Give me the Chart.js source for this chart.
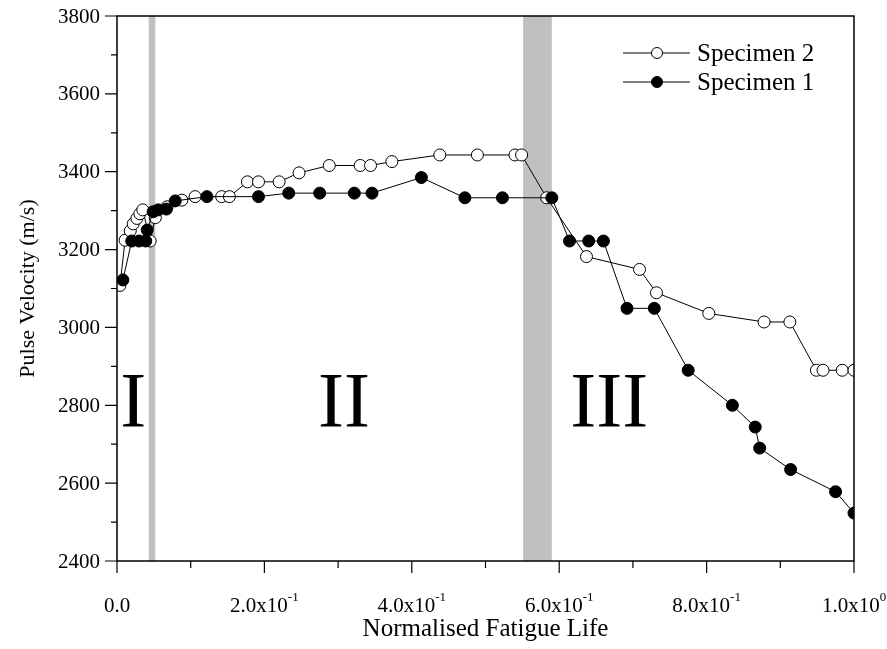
<!DOCTYPE html>
<html>
<head>
<meta charset="utf-8">
<title>Pulse velocity vs normalised fatigue life</title>
<script src="https://cdn.jsdelivr.net/npm/chart.js@4/dist/chart.umd.min.js"></script>
<style>
  html, body { margin: 0; padding: 0; background: #fff; }
  canvas { display: block; }
</style>
</head>
<body>
<canvas id="pulseChart" width="887" height="649"></canvas>
<script>
// Values (normalised life vs pulse velocity, m/s).
const spec2Life = [0.004, 0.011, 0.018, 0.022, 0.027, 0.031, 0.035, 0.045, 0.052, 0.068, 0.088, 0.106, 0.142, 0.1525,
  0.177, 0.192, 0.220, 0.247, 0.288, 0.330, 0.344, 0.373, 0.438, 0.489, 0.540, 0.549, 0.583, 0.637, 0.709, 0.732,
  0.803, 0.878, 0.913, 0.949, 0.958, 0.984, 1.0];
const spec2Velocity = [3108, 3224, 3248, 3266, 3280, 3292, 3302, 3222, 3282, 3310, 3327, 3336, 3336, 3336,
  3374, 3374, 3374, 3397, 3416, 3416, 3416, 3426, 3443, 3443, 3443, 3443, 3333, 3182, 3149, 3089,
  3036, 3014, 3014, 2890, 2890, 2890, 2890];

const spec1Life = [0.008, 0.020, 0.030, 0.039, 0.041, 0.049, 0.056, 0.067, 0.079, 0.122, 0.192, 0.233, 0.275, 0.322,
  0.346, 0.413, 0.472, 0.523, 0.590, 0.614, 0.640, 0.660, 0.692, 0.729, 0.775, 0.835, 0.866, 0.872, 0.914, 0.975, 1.0];
const spec1Velocity = [3122, 3222, 3222, 3222, 3250, 3297, 3302, 3304, 3325, 3336, 3336, 3345, 3345, 3345,
  3345, 3385, 3333, 3333, 3333, 3222, 3222, 3222, 3049, 3049, 2890, 2800, 2744, 2690, 2635, 2578, 2523];

const yMajorTicks = [2400, 2600, 2800, 3000, 3200, 3400, 3600, 3800];
const yMinorTicks = [2500, 2700, 2900, 3100, 3300, 3500, 3700];
const xMajorTicks = [0, 0.2, 0.4, 0.6, 0.8, 1.0];
const xMinorTicks = [0.1, 0.3, 0.5, 0.7, 0.9];
const xTickBase = ["0.0", "2.0x10", "4.0x10", "6.0x10", "8.0x10", "1.0x10"];
const xTickExp = ["", "-1", "-1", "-1", "-1", "0"];

// transition zones between the three fatigue stages
const stageBands = [[0.043, 0.052], [0.551, 0.590]];
const stageNames = ["I", "II", "III"];
const stageLife = [0.022, 0.308, 0.668];
const stageVelocity = 2748;

const FONT = '"Liberation Serif", "Times New Roman", serif';

function text(ctx, str, x, y, size, align) {
  ctx.font = size + "px " + FONT;
  ctx.textAlign = align || "left";
  ctx.fillText(str, x, y);
}

const framePlugin = {
  id: "originFrame",
  beforeDatasetsDraw(chart) {
    const { ctx, chartArea: a, scales: { x } } = chart;
    ctx.save();
    ctx.fillStyle = "#c0c0c0";
    stageBands.forEach(([from, to]) => {
      const x0 = x.getPixelForValue(from);
      const x1 = x.getPixelForValue(to);
      ctx.fillRect(x0, a.top, x1 - x0, a.bottom - a.top);
    });
    ctx.restore();
  },
  afterDatasetsDraw(chart) {
    const { ctx, chartArea: a, scales: { x, y } } = chart;
    ctx.save();
    ctx.strokeStyle = "#000";
    ctx.fillStyle = "#000";

    // stage labels
    ctx.textBaseline = "alphabetic";
    stageNames.forEach((s, i) => {
      text(ctx, s, x.getPixelForValue(stageLife[i]), y.getPixelForValue(stageVelocity), 78, "center");
    });

    // box
    ctx.lineWidth = 1.5;
    ctx.strokeRect(a.left, a.top, a.right - a.left, a.bottom - a.top);

    // ticks, outward on left and bottom
    ctx.lineWidth = 1.2;
    ctx.beginPath();
    yMajorTicks.forEach((v) => { const p = y.getPixelForValue(v); ctx.moveTo(a.left - 12, p); ctx.lineTo(a.left, p); });
    yMinorTicks.forEach((v) => { const p = y.getPixelForValue(v); ctx.moveTo(a.left - 6, p); ctx.lineTo(a.left, p); });
    xMajorTicks.forEach((v) => { const p = x.getPixelForValue(v); ctx.moveTo(p, a.bottom); ctx.lineTo(p, a.bottom + 12); });
    xMinorTicks.forEach((v) => { const p = x.getPixelForValue(v); ctx.moveTo(p, a.bottom); ctx.lineTo(p, a.bottom + 7); });
    ctx.stroke();

    // y tick labels
    ctx.textBaseline = "middle";
    yMajorTicks.forEach((v) => text(ctx, String(v), a.left - 17, y.getPixelForValue(v) + 1, 21, "right"));

    // x tick labels with superscript exponents
    ctx.textBaseline = "alphabetic";
    xMajorTicks.forEach((v, i) => {
      ctx.font = "21px " + FONT;
      const wb = ctx.measureText(xTickBase[i]).width;
      ctx.font = "13px " + FONT;
      const we = xTickExp[i] ? ctx.measureText(xTickExp[i]).width : 0;
      const start = x.getPixelForValue(v) - (wb + we) / 2;
      text(ctx, xTickBase[i], start, 612, 21, "left");
      if (xTickExp[i]) text(ctx, xTickExp[i], start + wb, 601, 13, "left");
    });

    // axis titles
    text(ctx, "Normalised Fatigue Life", (a.left + a.right) / 2, 636, 25, "center");
    ctx.save();
    ctx.translate(28, (a.top + a.bottom) / 2);
    ctx.rotate(-Math.PI / 2);
    ctx.textBaseline = "middle";
    text(ctx, "Pulse Velocity (m/s)", 0, 0, 22, "center");
    ctx.restore();

    // legend (Specimen 2 above Specimen 1)
    const entries = [chart.data.datasets[1], chart.data.datasets[0]];
    entries.forEach((ds, i) => {
      const ly = 53 + i * 29;
      ctx.lineWidth = 1;
      ctx.beginPath();
      ctx.moveTo(623, ly);
      ctx.lineTo(690, ly);
      ctx.stroke();
      ctx.beginPath();
      ctx.arc(657, ly, 5.5, 0, Math.PI * 2);
      ctx.fillStyle = ds.pointBackgroundColor;
      ctx.fill();
      ctx.stroke();
      ctx.fillStyle = "#000";
      ctx.textBaseline = "alphabetic";
      text(ctx, ds.label, 697, ly + 8, 25, "left");
    });
    ctx.restore();
  },
};

function seriesPoints(xs, ys) {
  return xs.map((v, i) => ({ x: v, y: ys[i] }));
}

new Chart(document.getElementById("pulseChart"), {
  type: "scatter",
  data: {
    datasets: [
      {
        label: "Specimen 1",
        data: seriesPoints(spec1Life, spec1Velocity),
        showLine: true,
        borderColor: "#000",
        borderWidth: 1,
        pointRadius: 6,
        pointBorderWidth: 1,
        pointBorderColor: "#000",
        pointBackgroundColor: "#000",
        order: 0,
      },
      {
        label: "Specimen 2",
        data: seriesPoints(spec2Life, spec2Velocity),
        showLine: true,
        borderColor: "#000",
        borderWidth: 1,
        pointRadius: 6,
        pointBorderWidth: 1,
        pointBorderColor: "#000",
        pointBackgroundColor: "#fff",
        order: 1,
      },
    ],
  },
  options: {
    responsive: false,
    animation: false,
    devicePixelRatio: 1,
    layout: { padding: { top: 16, right: 33, left: 0, bottom: 0 } },
    plugins: { legend: { display: false }, tooltip: { enabled: false } },
    scales: {
      x: {
        type: "linear", min: 0, max: 1,
        ticks: { display: false }, grid: { display: false }, border: { display: false },
        afterFit: (s) => { s.height = 88; },
      },
      y: {
        type: "linear", min: 2400, max: 3800,
        ticks: { display: false, stepSize: 200 }, grid: { display: false }, border: { display: false },
        afterFit: (s) => { s.width = 117; },
      },
    },
  },
  plugins: [framePlugin],
});
</script>
</body>
</html>
